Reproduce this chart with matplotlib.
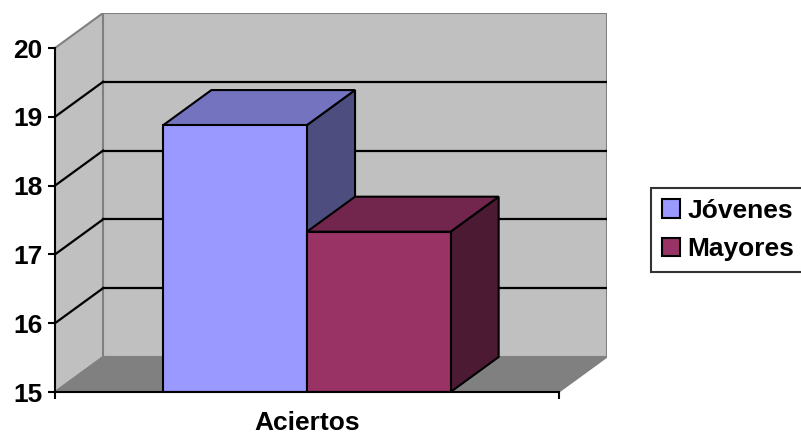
import matplotlib.pyplot as plt
from matplotlib.patches import Polygon, Patch

# --- data ---
categories = ['Aciertos']
series = ['Jóvenes', 'Mayores']
values = [18.88, 17.33]
y_ticks = [15, 16, 17, 18, 19, 20]

front_colors = ['#9999FF', '#993366']
top_colors = ['#7373BF', '#73264D']
side_colors = ['#4D4D80', '#4D1A33']

# 3-D offset of the back plane (x in category units, y in value units)
DX = 0.0954
DY = 0.509
Y0, Y1 = 15, 20
BAR_W = 0.285
FS = 19

plt.rcParams['font.family'] = ['Liberation Sans', 'DejaVu Sans']
plt.rcParams['font.weight'] = 'bold'

fig = plt.figure(figsize=(8.01, 4.37), dpi=100)
ax = fig.add_axes([55 / 801, 45 / 437, 552 / 801, 379 / 437])
ax.set_xlim(0, 1 + DX)
ax.set_ylim(Y0, Y1 + DY)
for s in ax.spines.values():
    s.set_visible(False)

wall_c, floor_c, edge_c = '#C0C0C0', '#808080', '#808080'

# side wall, back wall, floor
ax.add_patch(Polygon([(0, Y0), (DX, Y0 + DY), (DX, Y1 + DY), (0, Y1)],
                     closed=True, fc=wall_c, ec=edge_c, lw=1.5, zorder=1))
ax.add_patch(Polygon([(DX, Y0 + DY), (1 + DX, Y0 + DY), (1 + DX, Y1 + DY), (DX, Y1 + DY)],
                     closed=True, fc=wall_c, ec=edge_c, lw=1.5, zorder=1))
ax.add_patch(Polygon([(0, Y0), (1, Y0), (1 + DX, Y0 + DY), (DX, Y0 + DY)],
                     closed=True, fc=floor_c, ec=edge_c, lw=1.0, zorder=1))

# gridlines on the walls
for v in y_ticks[1:-1]:
    ax.plot([0, DX], [v, v + DY], color='black', lw=1.6, zorder=2)
    ax.plot([DX, 1 + DX], [v + DY, v + DY], color='black', lw=1.6, zorder=2)

# 3-D bars
n = len(series)
start = 0.5 - n * BAR_W / 2
for i, (val, fc, tc, sc) in enumerate(zip(values, front_colors, top_colors, side_colors)):
    x0 = start + i * BAR_W
    x1 = x0 + BAR_W
    z = 3 + i
    kw = dict(closed=True, ec='black', lw=1.5, joinstyle='miter', zorder=z)
    ax.add_patch(Polygon([(x1, Y0), (x1 + DX, Y0 + DY), (x1 + DX, val + DY), (x1, val)], fc=sc, **kw))
    ax.add_patch(Polygon([(x0, val), (x1, val), (x1 + DX, val + DY), (x0 + DX, val + DY)], fc=tc, **kw))
    ax.add_patch(Polygon([(x0, Y0), (x1, Y0), (x1, val), (x0, val)], fc=fc, **kw))

# front axes lines
ax.plot([0, 0], [Y0, Y1], color='black', lw=1.5, zorder=10, clip_on=False)
ax.plot([0, 1], [Y0, Y0], color='black', lw=1.5, zorder=10, clip_on=False)

ax.set_yticks(y_ticks)
ax.set_yticklabels([str(t) for t in y_ticks], fontsize=FS, fontweight='bold')
ax.tick_params(axis='y', length=5, width=1.5, pad=4, color='black')

ax.set_xticks([0, 1])
ax.set_xticklabels(['', ''])
ax.set_xticks([0.5], minor=True)
ax.set_xticklabels(categories, minor=True, fontsize=FS, fontweight='bold')
ax.tick_params(axis='x', which='major', length=5, width=1.5, color='black')
ax.tick_params(axis='x', which='minor', length=0, pad=14)

handles = [Patch(fc=c, ec='black', lw=1.5) for c in front_colors]
leg = fig.legend(handles, series, loc='center left', bbox_to_anchor=(651 / 801, 207 / 437),
                 fontsize=FS, frameon=True, fancybox=False, edgecolor='black',
                 handlelength=0.68, handleheight=0.68, handletextpad=0.3,
                 borderpad=0.4, labelspacing=0.55, borderaxespad=0)
leg.get_frame().set_linewidth(1.5)
for t in leg.get_texts():
    t.set_fontweight('bold')

fig.savefig('out.png', dpi=100)
